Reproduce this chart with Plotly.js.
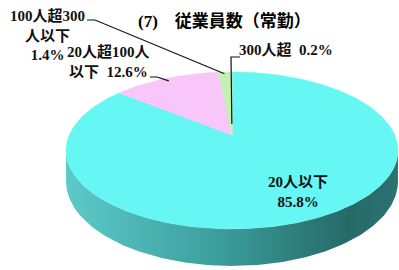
<!DOCTYPE html>
<html>
<head>
<meta charset="utf-8">
<script src="https://cdn.plot.ly/plotly-3.0.1.min.js"></script>
<style>html,body{margin:0;padding:0;background:#fff;}#chart{width:399px;height:270px;}</style>
</head>
<body>
<div id="chart"></div>
<script>
// ---- data ----
const categories = ['20人以下', '20人超100人以下', '100人超300人以下', '300人超'];
const values = [85.8, 12.6, 1.4, 0.2];
const labelLines = ['20人以下', '20人超100人<br>以下', '100人超300<br>人以下', '300人超'];
const labelJoin = ['<br>', '\u00A0\u00A0', '<br>', '\u00A0\u00A0'];

// ---- styles / layout config ----
const topColors = ['#66f6f3', '#f8c6f8', '#c4f0b4', '#e2f0a6'];
const sideColors = ['#3c9f9d', '#b98cb9', '#8fb884', '#a8b478'];
const labelPos = [[298, 192], [108, 61], [47, 35], [286, 49]];
const leaderFrom = [null, [[150, 77], [157, 77]], [[87, 20], [95, 20]], [[240, 57], [231, 57]]];
const leaderR = [null, 0.95, 0.97, 0.15];
const FONT = 'Liberation Serif, "Noto Sans CJK JP", serif';

// pie geometry (perspective-tilted disc, pixel units)
const cx = 232, cy = 135, A = 162.7, B = 75.4, k = 0.197, H = 29.7;
function proj(t, r) {
  const u = r * Math.sin(t), v = r * Math.cos(t), d = 1 + k * v;
  return [cx + A * u / d, cy - B * v / d];
}
const total = values.reduce((a, b) => a + b, 0);
const angles = [];
let cum = 0;
values.forEach(v => { const t0 = cum / total * 2 * Math.PI; cum += v; angles.push([t0, cum / total * 2 * Math.PI]); });

const traces = [];
const ta = Math.acos(-k), tb = 2 * Math.PI - ta;
// side walls
angles.forEach(([t0, t1], i) => {
  const s = Math.max(t0, ta), e = Math.min(t1, tb);
  if (s >= e) return;
  const n = Math.max(2, Math.ceil((e - s) / (Math.PI / 180)));
  const xs = [], ys = [];
  for (let j = 0; j <= n; j++) { const t = s + (e - s) * j / n; const p = proj(t, 1); xs.push(p[0]); ys.push(p[1]); }
  for (let j = n; j >= 0; j--) { const t = s + (e - s) * j / n; const p = proj(t, 1); xs.push(p[0]); ys.push(p[1] + H / (1 + k * Math.cos(t))); }
  xs.push(xs[0]); ys.push(ys[0]);
  const tr = {type: 'scatter', mode: 'lines', x: xs, y: ys, fill: 'toself', fillcolor: sideColors[i],
    line: {width: 0}, hoverinfo: 'skip', name: categories[i] + ' side'};
  if (i === 0) tr.fillgradient = {type: 'horizontal', colorscale: [[0, '#5ccaca'], [0.45, '#3c9f9d'], [0.85, '#266a68'], [1, '#2c7270']]};
  traces.push(tr);
});
// top faces
angles.forEach(([t0, t1], i) => {
  const n = Math.max(2, Math.ceil((t1 - t0) / (Math.PI / 180)));
  const xs = [cx], ys = [cy];
  for (let j = 0; j <= n; j++) { const p = proj(t0 + (t1 - t0) * j / n, 1); xs.push(p[0]); ys.push(p[1]); }
  xs.push(cx); ys.push(cy);
  traces.push({type: 'scatter', mode: 'lines', x: xs, y: ys, fill: 'toself', fillcolor: topColors[i],
    line: {width: 0.6, color: topColors[i]}, hoverinfo: 'skip', name: categories[i]});
});

// labels and leader lines
const annotations = values.map((v, i) => ({
  x: labelPos[i][0], y: labelPos[i][1], xref: 'x', yref: 'y', showarrow: false,
  text: labelLines[i] + labelJoin[i] + v.toFixed(1) + '%', align: 'center',
  xanchor: 'center', yanchor: 'middle',
  font: {family: FONT, size: 15, color: '#111', weight: 'bold'}
}));
const shapes = [];
leaderFrom.forEach((pts, i) => {
  if (!pts) return;
  const [t0, t1] = angles[i];
  const end = proj((t0 + t1) / 2, leaderR[i]);
  let d = 'M ' + pts.map(p => p[0] + ' ' + p[1]).join(' L ') + ' L ' + end[0] + ' ' + end[1];
  shapes.push({type: 'path', xref: 'x', yref: 'y', path: d, line: {color: '#111', width: 1.2}});
});

const layout = {
  width: 399, height: 270, margin: {l: 0, r: 0, t: 0, b: 0},
  paper_bgcolor: '#fff', plot_bgcolor: '#fff', showlegend: false,
  xaxis: {range: [0, 399], visible: false, fixedrange: true},
  yaxis: {range: [270, 0], visible: false, fixedrange: true},
  title: {text: '<b>(7)</b>\u3000<b>従業員数（常勤）</b>', x: 138 / 399, xanchor: 'left', xref: 'container',
    y: 1 - 21 / 270, yanchor: 'middle', yref: 'container',
    font: {family: FONT, size: 17, color: '#000'}},
  annotations: annotations, shapes: shapes
};
Plotly.newPlot('chart', traces, layout, {staticPlot: true, displayModeBar: false});
</script>
</body>
</html>
